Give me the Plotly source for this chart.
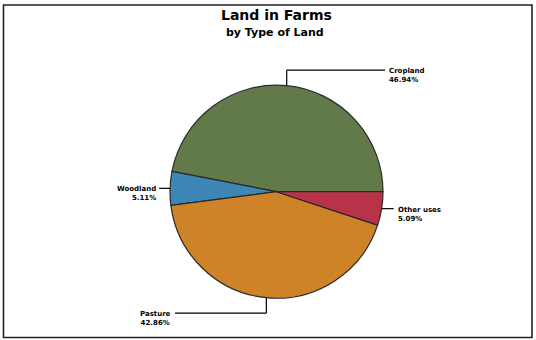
import math
import plotly.graph_objects as go

# Land in farms, share by type of land (percent)
categories = ["Cropland", "Woodland", "Pasture", "Other uses"]
shares = [46.94, 5.11, 42.86, 5.09]
colors = ["#62794a", "#3d86b5", "#cf8328", "#b93348"]

W, H = 536, 340
cx, cy, r = 276.5, 191.7, 106.5  # pie centre / radius in pixels (top-left origin)

total = sum(shares)
# counterclockwise pies in plotly put the rotation mark at the end of the first
# slice, so offset by the first slice to start it at 3 o'clock
rotation = 90 - shares[0] / total * 360

fig = go.Figure(go.Pie(
    labels=categories,
    values=shares,
    sort=False,
    direction="counterclockwise",
    rotation=rotation,
    textinfo="none",
    hoverinfo="label+percent",
    marker=dict(colors=colors, line=dict(color="#2a2a2a", width=1.2)),
    domain=dict(x=[(cx - r) / W, (cx + r) / W],
                y=[(H - cy - r) / H, (H - cy + r) / H]),
    showlegend=False,
))

def px(x):
    return x / W

def py(y):
    return 1 - y / H

# mid-angle of each slice (degrees, counterclockwise from 3 o'clock)
mids = []
acc = 0.0
for v in shares:
    a0 = acc / total * 360
    acc += v
    a1 = acc / total * 360
    mids.append((a0 + a1) / 2)

def edge(angle):
    t = math.radians(angle)
    return cx + r * math.cos(t), cy - r * math.sin(t)

shapes = []
annotations = []
line = dict(color="black", width=1.2)
font = dict(family="DejaVu Sans", size=7, color="black")
half = 5  # half height of a label line, so the leader meets its first line

for name, v, ang in zip(categories, shares, mids):
    ex, ey = edge(ang)
    text = f"<b>{name}</b><br><b>{v:.2f}%</b>"
    if 45 <= ang <= 135:  # top: elbow up then right
        ky = cy - r - 15
        lx = 385
        shapes.append(dict(type="line", x0=px(ex), y0=py(ey), x1=px(ex), y1=py(ky), line=line))
        shapes.append(dict(type="line", x0=px(ex), y0=py(ky), x1=px(lx), y1=py(ky), line=line))
        annotations.append(dict(x=px(lx + 2), y=py(ky - half), text=text, xanchor="left", yanchor="top", align="left"))
    elif 225 <= ang <= 315:  # bottom: elbow down then left
        ky = cy + r + 15
        lx = 175
        shapes.append(dict(type="line", x0=px(ex), y0=py(ey), x1=px(ex), y1=py(ky), line=line))
        shapes.append(dict(type="line", x0=px(ex), y0=py(ky), x1=px(lx), y1=py(ky), line=line))
        annotations.append(dict(x=px(lx - 2), y=py(ky - half), text=text, xanchor="right", yanchor="top", align="center"))
    elif 90 < ang < 270:  # left
        lx = ex - 11
        shapes.append(dict(type="line", x0=px(ex), y0=py(ey), x1=px(lx), y1=py(ey), line=line))
        annotations.append(dict(x=px(lx - 1), y=py(ey - half), text=text, xanchor="right", yanchor="top", align="right"))
    else:  # right
        lx = ex + 12
        shapes.append(dict(type="line", x0=px(ex), y0=py(ey), x1=px(lx), y1=py(ey), line=line))
        annotations.append(dict(x=px(lx + 2), y=py(ey - half), text=text, xanchor="left", yanchor="top", align="left"))

for a in annotations:
    a.update(xref="paper", yref="paper", showarrow=False, font=font)

# frame around the whole chart
shapes.append(dict(type="rect", xref="paper", yref="paper",
                   x0=px(3.5), y0=py(337.5), x1=px(532), y1=py(5),
                   line=dict(color="#222222", width=1.6)))
for s in shapes:
    s.setdefault("xref", "paper")
    s.setdefault("yref", "paper")

annotations.append(dict(x=px(276), y=py(15), xref="paper", yref="paper", showarrow=False,
                        xanchor="center", yanchor="middle",
                        text="<b>Land in Farms</b>",
                        font=dict(family="DejaVu Sans", size=14, color="black")))
annotations.append(dict(x=px(275), y=py(33), xref="paper", yref="paper", showarrow=False,
                        xanchor="center", yanchor="middle",
                        text="<b>by Type of Land</b>",
                        font=dict(family="DejaVu Sans", size=11, color="black")))

fig.update_layout(
    width=W, height=H,
    margin=dict(l=0, r=0, t=0, b=0),
    paper_bgcolor="white",
    plot_bgcolor="white",
    shapes=shapes,
    annotations=annotations,
)

fig.write_html("out.html")
